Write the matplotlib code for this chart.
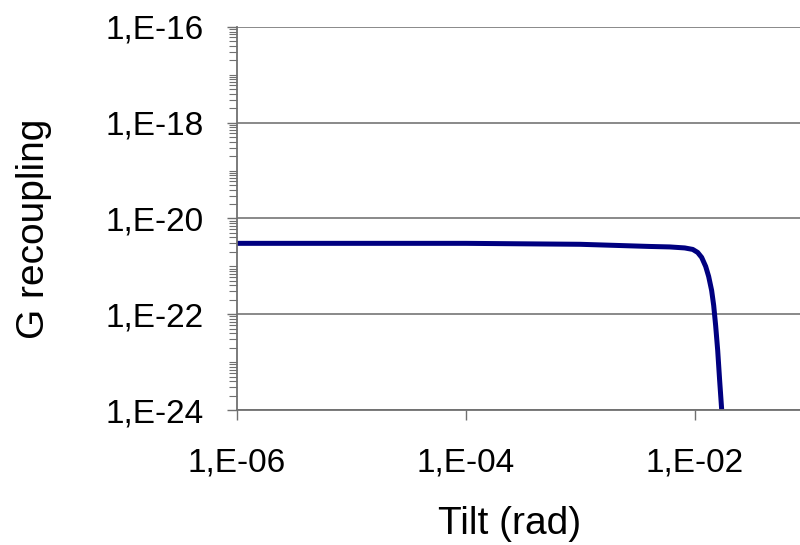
import numpy as np
import matplotlib.pyplot as plt
from matplotlib.ticker import FixedLocator, LogLocator, NullFormatter, FuncFormatter

plt.rcParams['font.family'] = ['Liberation Sans', 'DejaVu Sans']

# curve (log10 of tilt, log10 of G)
log_tilt = [-6.0, -5.0, -4.0, -3.0, -2.393, -2.218, -2.087, -2.017, -1.974, -1.939,
            -1.904, -1.878, -1.852, -1.834, -1.817, -1.799, -1.782, -1.764]
log_g = [-20.52, -20.52, -20.52, -20.54, -20.585, -20.595, -20.616, -20.647, -20.71, -20.814,
         -21.002, -21.211, -21.503, -21.816, -22.234, -22.756, -23.382, -24.0]
tilt = [10 ** v for v in log_tilt]
g_recoupling = [10 ** v for v in log_g]

x_ticks = [1e-6, 1e-4, 1e-2]
y_ticks = [1e-24, 1e-22, 1e-20, 1e-18, 1e-16]


def excel_fmt(v, pos):
    e = int(round(np.log10(v)))
    sign = '-' if e < 0 else '+'
    return f"1,E{sign}{abs(e):02d}"


fig = plt.figure(figsize=(8, 5.45), dpi=100)
ax = fig.add_axes([0.296, 0.2477, 0.704, 0.703])
ax.plot(tilt, g_recoupling, color='#000080', lw=3.6, solid_capstyle='butt')

ax.set_xscale('log')
ax.set_yscale('log')
ax.set_xlim(1e-6, 10 ** -1.08)
ax.set_ylim(1e-24, 1e-16)

ax.xaxis.set_major_locator(FixedLocator(x_ticks))
ax.xaxis.set_minor_locator(FixedLocator([]))
ax.yaxis.set_major_locator(FixedLocator(y_ticks))
ax.yaxis.set_minor_locator(LogLocator(base=10, subs=np.arange(1, 10), numticks=100))
ax.yaxis.set_minor_formatter(NullFormatter())
ax.xaxis.set_major_formatter(FuncFormatter(excel_fmt))
ax.yaxis.set_major_formatter(FuncFormatter(excel_fmt))

ax.grid(True, axis='y', which='major', color='#808080', lw=1.3)
ax.set_axisbelow(True)
for s in ['top', 'right']:
    ax.spines[s].set_visible(False)
for s in ['left', 'bottom']:
    ax.spines[s].set_color('#707070')
    ax.spines[s].set_linewidth(1.3)

ax.tick_params(axis='both', which='major', direction='out', length=7, width=1,
               color='#707070', labelsize=24)
ax.tick_params(axis='y', which='minor', direction='out', length=6, width=0.8, color='#707070')
ax.tick_params(axis='y', pad=17)
ax.tick_params(axis='x', pad=20)

ax.set_xlabel('Tilt (rad)', fontsize=28)
ax.set_ylabel('G recoupling', fontsize=28)
ax.xaxis.set_label_coords(0.485, -0.25)
ax.yaxis.set_label_coords(-0.328, 0.474)

fig.savefig('out.png', dpi=100)
